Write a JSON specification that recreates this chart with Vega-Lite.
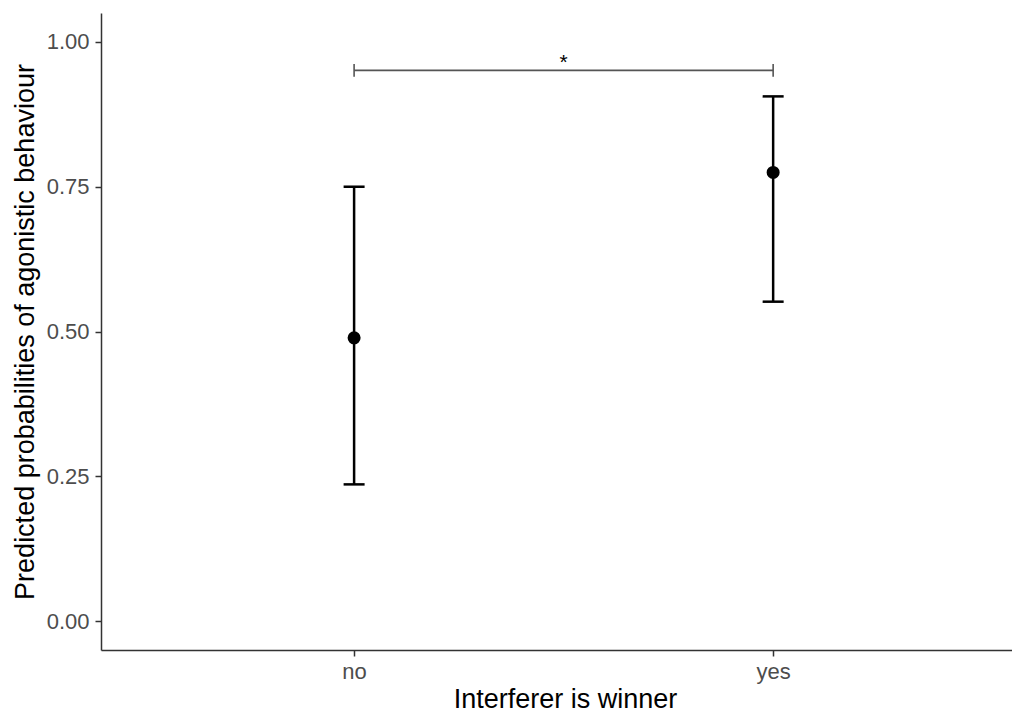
{
  "$schema": "https://vega.github.io/schema/vega-lite/v6.json",
  "width": 911,
  "height": 637,
  "autosize": {"type": "none"},
  "padding": {"left": 101, "top": 13, "right": 0, "bottom": 62},
  "background": "white",
  "config": {
    "view": {"stroke": null},
    "font": "Liberation Sans",
    "axis": {
      "grid": false,
      "domainColor": "#333333",
      "domainWidth": 1.5,
      "tickColor": "#333333",
      "tickWidth": 1.5,
      "tickSize": 6,
      "labelColor": "#4d4d4d",
      "labelFontSize": 22,
      "labelFont": "Liberation Sans",
      "titleFont": "Liberation Sans",
      "titleFontSize": 27,
      "titleFontWeight": "normal",
      "titleColor": "#000000"
    }
  },
  "datasets": {
    "est": [
      {"winner": "no", "x": 1, "fit": 0.489, "lo": 0.236, "hi": 0.75},
      {"winner": "yes", "x": 2, "fit": 0.7746, "lo": 0.5515, "hi": 0.906}
    ],
    "bracket": [
      {"x1": 1, "x2": 2, "y": 0.951, "label": "*", "xm": 1.5, "ys": 0.963}
    ],
    "brtick": [
      {"x": 1, "ylo": 0.94, "yhi": 0.962},
      {"x": 2, "ylo": 0.94, "yhi": 0.962}
    ]
  },
  "layer": [
    {
      "data": {"name": "est"},
      "mark": {"type": "rule", "color": "black", "strokeWidth": 2.5},
      "encoding": {
        "x": {
          "field": "x", "type": "quantitative",
          "scale": {"domain": [0.396, 2.57], "nice": false, "zero": false},
          "axis": {"values": [1, 2], "labelExpr": "datum.value == 1 ? 'no' : 'yes'", "title": "Interferer is winner", "labelPadding": 5, "titleX": 464, "titleY": 57, "titleAlign": "center", "titleBaseline": "alphabetic"}
        },
        "y": {
          "field": "lo", "type": "quantitative",
          "scale": {"domain": [-0.05, 1.05], "nice": false, "zero": false},
          "axis": {"values": [0, 0.25, 0.5, 0.75, 1], "format": ".2f", "title": "Predicted probabilities of agonistic behaviour", "labelPadding": 6, "titleX": -68, "titleBaseline": "alphabetic"}
        },
        "y2": {"field": "hi"}
      }
    },
    {
      "data": {"name": "est"},
      "mark": {"type": "tick", "orient": "horizontal", "color": "black", "size": 21, "thickness": 2.5, "opacity": 1},
      "encoding": {
        "x": {"field": "x", "type": "quantitative"},
        "y": {"field": "lo", "type": "quantitative"}
      }
    },
    {
      "data": {"name": "est"},
      "mark": {"type": "tick", "orient": "horizontal", "color": "black", "size": 21, "thickness": 2.5, "opacity": 1},
      "encoding": {
        "x": {"field": "x", "type": "quantitative"},
        "y": {"field": "hi", "type": "quantitative"}
      }
    },
    {
      "data": {"name": "est"},
      "mark": {"type": "point", "filled": true, "color": "black", "size": 170, "opacity": 1},
      "encoding": {
        "x": {"field": "x", "type": "quantitative"},
        "y": {"field": "fit", "type": "quantitative"}
      }
    },
    {
      "data": {"name": "bracket"},
      "mark": {"type": "rule", "color": "#555555", "strokeWidth": 1.6},
      "encoding": {
        "x": {"field": "x1", "type": "quantitative"},
        "x2": {"field": "x2"},
        "y": {"field": "y", "type": "quantitative"}
      }
    },
    {
      "data": {"name": "brtick"},
      "mark": {"type": "rule", "color": "#555555", "strokeWidth": 1.6},
      "encoding": {
        "x": {"field": "x", "type": "quantitative"},
        "y": {"field": "ylo", "type": "quantitative"},
        "y2": {"field": "yhi"}
      }
    },
    {
      "data": {"name": "bracket"},
      "mark": {"type": "text", "color": "black", "fontSize": 21, "baseline": "middle", "align": "center"},
      "encoding": {
        "x": {"field": "xm", "type": "quantitative"},
        "y": {"field": "ys", "type": "quantitative"},
        "text": {"field": "label"}
      }
    }
  ]
}
